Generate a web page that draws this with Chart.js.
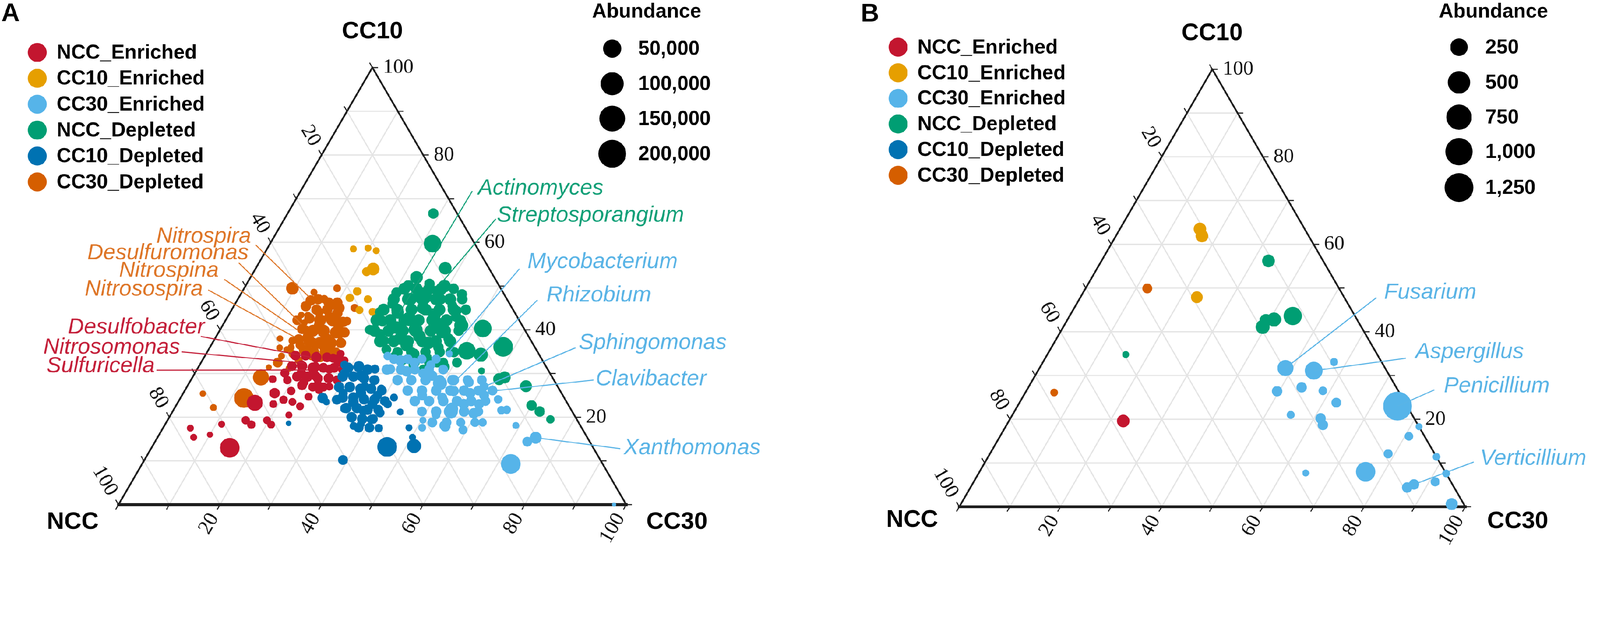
<!DOCTYPE html>
<html>
<head>
<meta charset="utf-8">
<script src="https://cdn.jsdelivr.net/npm/chart.js@4.4.0/dist/chart.umd.min.js"></script>
<style>
  html, body { margin: 0; padding: 0; background: #fff; overflow: hidden; }
  #wrap { display: flex; width: 4550px; height: 1604px; transform-origin: 0 0; }
  canvas { display: block; }
</style>
</head>
<body>
<div id="wrap">
  <canvas id="chart-a" width="2275" height="1604"></canvas>
  <canvas id="chart-b" width="2275" height="1604"></canvas>
</div>
<script>
// the window may be narrower in css px than the 4550 px picture: scale the page to fit
const fit = Math.min(window.innerWidth / 4550, window.innerHeight / 1604);
document.getElementById("wrap").style.transform = "scale(" + fit + ")";

// groups and palette
const groups = ["NCC_Enriched", "CC10_Enriched", "CC30_Enriched", "NCC_Depleted", "CC10_Depleted", "CC30_Depleted"];
const groupColors = ["#C3162F", "#E69F00", "#56B4E9", "#009E73", "#0072B2", "#D55E00"];
const textColors  = ["#C4203A", "#E69F00", "#5AB4E6", "#12A078", "#0072B2", "#DE7628"];
const drawOrder = [4, 5, 1, 3, 2, 6];   // lower = drawn on top
const axisTicks = [20, 40, 60, 80, 100];
const sizeTicksA = [50000, 100000, 150000, 200000];
const sizeTicksB = [250, 500, 750, 1000, 1250];

// ---- panel A, points are [NCC, CC10, CC30, abundance]
const nccEnrichedA = [
  [61.5,23.3,15.2,36700],[71.6,13.0,15.4,61500],[77.5,15.4,7.1,9700],[70.5,18.4,11.1,9700],
  [65.3,19.3,15.4,11900],[64.7,18.3,17.0,11900],[61.1,19.3,19.6,11000],[60.8,18.3,20.9,11000],
  [56.2,20.5,23.3,9700],[55.3,28.7,16.0,11000],[50.2,24.7,25.1,11000],[47.4,26.2,26.4,11000],
  [44.0,34.0,22.0,11900],[41.0,33.5,25.5,13000],[39.0,33.0,28.0,11000],[48.0,32.0,20.0,13000],
  [45.5,31.5,23.0,14600],[43.0,31.0,26.0,13000],[40.5,30.5,29.0,11000],[49.0,30.0,21.0,14600],
  [46.5,29.5,24.0,14600],[44.0,29.0,27.0,13000],[52.5,28.5,19.0,11900],[49.5,28.0,22.5,13000],
  [47.0,27.5,25.5,11900],[45.0,27.0,28.0,11000],[39.0,34.5,26.5,11000],[40.5,32.5,27.0,11900],
  [55.5,24.0,20.5,11900],[54.0,23.5,22.5,11000],[53.0,22.5,24.5,11000],[58.0,23.0,19.0,11000],
  [56.5,25.5,18.0,16000],[53.0,26.0,21.0,11900],[77.1,17.5,5.4,9700],[74.0,16.0,10.0,8500],
  [48.1,34.1,17.8,14600],[46.1,34.1,19.8,14600],[44.2,33.7,22.1,16000],[42.1,33.7,24.2,14600],
  [40.2,33.3,26.5,13000],[50.0,31.7,18.3,14600],[48.0,31.7,20.3,16000],[46.1,31.3,22.6,16000],
  [44.0,31.3,24.7,14600],[41.9,31.3,26.8,14600],[40.4,30.9,28.7,13000],[50.2,29.3,20.5,14600],
  [48.1,29.3,22.6,16000],[46.3,28.9,24.8,14600],[44.2,28.9,26.9,14600],[42.7,28.5,28.8,13000],
  [50.2,27.3,22.5,14600],[48.3,26.9,24.8,13000],[46.2,26.9,26.9,13000],[52.2,30.1,17.7,13000]
];
const cc10EnrichedA = [
  [24.5,58.5,17.0,9700],[21.5,58.7,19.8,9700],[20.2,58.1,21.7,9700],[22.9,53.9,23.2,22000],
  [24.5,53.3,22.2,13000],[28.6,48.8,22.6,11900],[30.8,47.3,21.9,11900],[27.4,47.0,25.6,11000],
  [30.3,44.5,25.2,11000],[27.9,44.1,28.0,11000],[28.0,42.4,29.6,11000]
];
const cc30EnrichedA = [
  [30.0,34.0,36.0,11900],[28.0,33.0,39.0,16000],[25.5,32.5,42.0,14600],[22.5,32.0,45.5,13000],
  [31.0,31.0,38.0,14600],[28.0,30.5,41.5,16000],[25.0,30.0,45.0,14600],[17.6,34.5,47.9,9700],
  [22.8,27.8,49.4,27100],[23.5,29.5,47.0,16000],[20.0,28.5,51.5,16000],[17.0,28.0,55.0,14600],
  [14.5,27.0,58.5,13000],[21.0,26.0,53.0,16000],[18.0,25.5,56.5,16000],[15.5,25.0,59.5,14600],
  [27.7,25.0,47.3,14600],[24.0,24.5,51.5,14600],[13.2,24.1,62.7,11900],[20.5,23.0,56.5,16000],
  [17.5,23.0,59.5,14600],[23.9,21.3,54.8,27100],[19.6,20.9,59.5,16000],[13.8,21.6,64.6,11900],
  [12.7,21.7,65.6,11900],[26.8,18.1,55.1,14600],[23.6,17.1,59.3,13000],[18.9,18.8,62.3,11900],
  [12.7,18.1,69.2,9700],[31.4,17.6,51.0,11000],[30.4,19.3,50.3,9700],[27.2,20.5,52.3,11900],
  [26.7,17.9,55.4,16000],[23.4,21.9,54.7,22000],[10.2,15.3,74.5,19900],[12.3,14.4,73.3,14600],
  [18.1,9.3,72.6,61500],[2.4,0.0,97.6,6400],
  [29.1,33.3,37.6,14600],[26.4,33.3,40.3,14600],[23.6,33.3,43.1,13000],[20.8,33.3,45.9,13000],
  [31.7,30.9,37.4,16000],[28.9,30.9,40.2,16000],[26.2,30.9,42.9,14600],[23.4,30.9,45.7,14600],
  [20.6,30.9,48.5,14600],[30.8,28.5,40.7,16000],[28.1,28.5,43.4,16000],[25.3,28.5,46.2,16000],
  [22.5,28.5,49.0,16000],[19.7,28.5,51.8,16000],[17.0,28.5,54.5,14600],[14.2,28.5,57.3,14600],
  [30.0,26.1,43.9,16000],[27.2,26.1,46.7,16000],[24.4,26.1,49.5,16000],[21.6,26.1,52.3,16000],
  [18.9,26.1,55.0,16000],[16.1,26.1,57.8,14600],[13.3,26.1,60.6,14600],[29.8,23.7,46.5,16000],
  [27.0,23.7,49.3,16000],[24.2,23.7,52.1,16000],[21.5,23.7,54.8,16000],[18.7,23.7,57.6,16000],
  [15.9,23.7,60.4,14600],[29.6,21.3,49.1,14600],[26.8,21.3,51.9,16000],[24.0,21.3,54.7,16000],
  [21.3,21.3,57.4,16000],[18.5,21.3,60.2,14600],[28.8,18.8,52.4,14600],[26.0,18.8,55.2,14600],
  [23.2,18.8,58.0,13000],[20.4,18.8,60.8,13000]
];
const nccDepletedA = [
  [4.7,66.6,28.7,16000],[8.3,59.7,32.0,45200],[8.6,54.1,37.3,22000],[17.8,50.2,32.0,16000],
  [15.3,52.0,32.7,22000],[16.2,47.7,36.1,45200],[10.8,50.0,39.2,22000],[8.3,48.1,43.6,16000],
  [11.0,44.4,44.6,11900],[8.1,40.3,51.6,45200],[6.2,36.1,57.7,61500],[13.8,35.2,51.0,45200],
  [11.5,34.3,54.2,27100],[13.2,30.6,56.2,9700],[10.7,28.7,60.6,19900],[9.4,29.1,61.5,19900],
  [6.2,27.1,66.7,19900],[7.3,22.7,70.0,16000],[6.4,21.3,72.3,16000],[5.2,19.5,75.3,11900],
  [13.5,50.5,36.0,16000],[13.0,49.0,38.0,13000],[21.0,48.5,30.5,16000],[19.0,47.0,34.0,22000],
  [13.0,47.0,40.0,16000],[23.0,46.0,31.0,16000],[11.5,45.5,43.0,14600],[17.5,45.0,37.5,22000],
  [26.5,44.0,29.5,16000],[23.0,44.0,33.0,22000],[16.0,43.5,40.5,22000],[12.0,43.0,45.0,16000],
  [21.5,42.5,36.0,27100],[27.0,42.0,31.0,16000],[16.5,41.5,42.0,22000],[12.0,41.0,47.0,27100],
  [25.0,40.5,34.5,22000],[21.5,40.0,38.5,27100],[30.5,40.0,29.5,14600],[16.5,39.5,44.0,22000],
  [29.0,39.0,32.0,16000],[21.5,38.5,40.0,22000],[25.5,38.0,36.5,22000],[16.0,38.0,46.0,16000],
  [29.0,37.5,33.5,16000],[20.5,37.0,42.5,22000],[25.0,36.5,38.5,22000],[19.0,36.0,45.0,16000],
  [29.5,35.5,35.0,14600],[17.0,35.0,48.0,16000],[24.5,34.5,41.0,16000],[28.5,34.0,37.5,14600],
  [22.5,33.5,44.0,16000],[27.5,33.0,39.5,13000],[21.0,32.5,46.5,14600],[26.0,32.0,42.0,13000],
  [20.0,31.5,48.5,14600],[24.5,31.0,44.5,13000],
  [19.0,49.4,31.6,19900],[16.6,49.4,34.0,19900],[14.1,49.4,36.5,19900],[11.7,49.4,38.9,19900],
  [9.3,49.4,41.3,16000],[22.3,47.0,30.7,19900],[19.5,47.0,33.5,19900],[16.7,47.0,36.3,19900],
  [14.0,47.0,39.0,19900],[11.2,47.0,41.8,19900],[8.8,47.0,44.2,16000],[25.5,44.6,29.9,19900],
  [22.8,44.6,32.6,19900],[20.0,44.6,35.4,19900],[17.2,44.6,38.2,19900],[14.5,44.6,40.9,19900],
  [11.7,44.6,43.7,19900],[9.3,44.6,46.1,16000],[28.1,42.2,29.7,19900],[25.4,42.2,32.4,19900],
  [22.6,42.2,35.2,19900],[19.8,42.2,38.0,19900],[17.1,42.2,40.7,19900],[14.3,42.2,43.5,19900],
  [11.5,42.2,46.3,16000],[29.7,39.8,30.5,19900],[26.9,39.8,33.3,19900],[24.1,39.8,36.1,19900],
  [21.4,39.8,38.8,19900],[18.6,39.8,41.6,19900],[15.8,39.8,44.4,19900],[13.1,39.8,47.1,16000],
  [29.8,37.4,32.8,19900],[27.1,37.4,35.5,19900],[24.3,37.4,38.3,19900],[21.5,37.4,41.1,19900],
  [18.8,37.4,43.8,19900],[16.0,37.4,46.6,19900],[27.6,34.9,37.5,16000],[24.9,34.9,40.2,16000],
  [22.1,34.9,43.0,16000],[19.3,34.9,45.8,16000],[16.5,34.9,48.6,16000],[25.4,32.5,42.1,14600],
  [22.6,32.5,44.9,14600],[19.8,32.5,47.7,14600],[17.1,32.5,50.4,14600]
];
const cc10DepletedA = [
  [39.5,32.0,28.5,11900],[37.0,31.5,31.5,16000],[34.0,31.0,35.0,13000],[40.5,30.0,29.5,14600],
  [37.5,29.5,33.0,16000],[35.5,28.5,36.0,13000],[41.0,27.0,32.0,14600],[38.0,27.0,35.0,13000],
  [35.0,26.5,38.5,11900],[43.0,25.5,31.5,13000],[39.5,25.5,35.0,16000],[36.5,25.0,38.5,13000],
  [33.5,24.5,42.0,11000],[45.0,24.0,31.0,14600],[42.0,23.5,34.5,16000],[38.5,23.0,38.5,14600],
  [35.5,23.0,41.5,11900],[44.5,22.0,33.5,13000],[41.0,21.5,37.5,14600],[38.0,21.0,41.0,13000],
  [44.0,20.0,36.0,11900],[40.5,19.5,40.0,13000],[43.0,18.5,38.5,11000],[44.7,18.0,37.3,11000],
  [40.0,17.5,42.5,11900],[47.6,24.4,28.0,16000],[47.3,23.5,29.2,9700],[33.9,21.2,44.9,9700],
  [34.0,17.6,48.4,9700],[34.4,15.4,50.2,9700],[40.5,13.2,46.3,61500],[35.1,13.4,51.5,27100],
  [50.7,10.2,39.1,14600],[57.2,18.6,24.2,7900],
  [39.1,31.3,29.6,16000],[36.8,31.7,31.5,16000],[35.5,30.9,33.6,16000],[41.2,29.3,29.5,16000],
  [39.1,29.3,31.6,16000],[37.2,28.9,33.9,16000],[35.3,28.5,36.2,14600],[43.1,26.9,30.0,16000],
  [41.0,26.9,32.1,16000],[39.1,26.5,34.4,16000],[37.0,26.5,36.5,16000],[35.1,26.1,38.8,14600],
  [43.6,24.5,31.9,16000],[41.5,24.5,34.0,16000],[39.6,24.1,36.3,16000],[37.5,24.1,38.4,16000],
  [35.7,23.7,40.6,14600],[44.1,22.1,33.8,16000],[42.0,22.1,35.9,16000],[40.1,21.7,38.2,16000],
  [38.0,21.7,40.3,14600],[44.1,20.0,35.9,16000],[42.2,19.6,38.2,16000],[40.1,19.6,40.3,14600],
  [43.9,17.6,38.5,14600],[41.8,17.6,40.6,14600]
];
const cc30DepletedA = [
  [41.0,49.5,9.5,22000],[32.2,49.5,18.3,10700],[38.8,46.7,14.5,16000],[35.2,45.6,19.2,13000],
  [42.3,43.4,14.3,9000],[41.0,43.4,15.6,9000],[42.6,41.6,15.8,9500],[49.2,38.0,12.8,9000],
  [50.3,35.9,13.8,9000],[50.9,34.0,15.1,9500],[49.1,35.5,15.4,9000],[54.7,31.4,13.9,8500],
  [57.4,29.1,13.5,36700],[63.1,24.4,12.5,61500],[70.7,25.4,3.9,8800],[70.2,22.2,7.6,9700],
  [36.0,47.0,17.0,11900],[34.0,45.0,21.0,16000],[38.5,44.0,17.5,13000],[37.0,43.0,20.0,14600],
  [36.0,42.0,22.0,13000],[40.0,41.0,19.0,16000],[36.5,40.5,23.0,14600],[43.0,40.0,17.0,12000],
  [40.0,39.5,20.5,16000],[37.0,39.0,24.0,13000],[43.5,38.5,18.0,14600],[40.0,38.0,22.0,16000],
  [47.0,37.5,15.5,11000],[43.0,37.0,20.0,14600],[38.0,37.0,25.0,11000],[46.0,36.5,17.5,13000],
  [41.5,36.0,22.5,14600],[45.0,35.5,19.5,13000],[41.0,35.0,24.0,11000],[48.5,34.5,17.0,11000],
  [45.0,34.0,21.0,11900],[43.5,33.5,23.0,11000],[48.0,33.0,19.0,11000],[34.0,42.0,24.0,12000],
  [31.0,45.0,24.0,11000],[50.8,31.2,18.0,9700],[46.5,37.7,15.8,9700],[48.0,36.0,16.0,9700],
  [40.4,45.4,14.2,16000],[38.7,44.6,16.7,16000],[36.6,44.6,18.8,16000],[35.0,43.8,21.2,16000],
  [41.1,42.6,16.3,16000],[39.2,42.2,18.6,19900],[36.8,42.2,21.0,19900],[34.9,41.8,23.3,16000],
  [43.7,40.2,16.1,16000],[41.8,39.8,18.4,19900],[39.7,39.8,20.5,19900],[37.5,39.4,23.1,19900],
  [35.8,39.4,24.8,16000],[45.6,37.8,16.6,16000],[43.7,37.4,18.9,19900],[41.8,37.0,21.2,19900],
  [39.7,37.0,23.3,19900],[37.7,37.0,25.3,16000],[45.8,35.3,18.9,16000],[44.0,34.9,21.1,16000],
  [41.9,34.9,23.2,16000],[39.8,34.9,25.3,14600],[37.2,47.0,15.8,16000],[35.5,46.2,18.3,16000],
  [33.8,46.2,20.0,16000],[43.7,42.2,14.1,14600],[52.4,32.5,15.1,14600],[37.2,48.6,14.2,9700]
];

// labelled taxa, panel A: name, group index, [NCC, CC10, CC30] of the marked point
const taxaA = ["Nitrospira", "Desulfuromonas", "Nitrospina", "Nitrosospira", "Desulfobacter", "Nitrosomonas", "Sulfuricella",
  "Actinomyces", "Streptosporangium", "Mycobacterium", "Rhizobium", "Sphingomonas", "Clavibacter", "Xanthomonas"];
const taxaGroupA = [5, 5, 5, 5, 0, 0, 0, 3, 3, 2, 2, 2, 2, 2];
const taxaPointA = [
  [38.7,47.5,13.8],[43.3,41.3,15.4],[44.7,39.9,15.4],[46.2,38.4,15.4],[45.0,33.7,21.3],[47.1,32.4,20.5],[47.2,30.8,22.0],
  [22.8,43.8,33.4],[10.8,50.9,38.3],[18.0,34.5,47.5],[20.2,27.8,52.0],[13.7,27.3,59.0],[14.1,25.9,60.0],[10.1,15.3,74.6]
];

// ---- panel B
const nccEnrichedB = [[57.8,19.6,22.6,124]];
const cc10EnrichedB = [[20.7,63.5,15.8,124],[21.1,61.9,17.0,124],[29.1,47.9,23.0,110]];
const cc30EnrichedB = [
  [19.7,31.7,48.6,205],[14.4,31.1,54.5,260],[9.4,33.1,57.5,64],[24.0,26.4,49.6,90],
  [18.7,27.3,54.0,90],[14.9,26.5,58.6,70],[13.6,23.8,62.6,83],[24.0,21.0,55.0,64],
  [18.5,20.2,61.3,90],[18.8,18.7,62.5,90],[1.9,23.0,75.1,1250],[0.0,18.3,81.7,55],
  [3.1,16.1,80.8,70],[9.2,12.1,78.7,75],[0.0,11.4,88.6,61],[15.7,8.0,76.3,330],
  [27.7,7.7,64.6,55],[0.0,7.6,92.4,61],[3.1,5.7,91.2,75],[7.6,5.1,87.3,90],
  [9.3,4.4,86.3,90],[2.4,0.6,97.0,112]
];
const nccDepletedB = [[10.8,56.2,33.0,124],[19.5,41.1,39.4,151],[18.1,42.6,39.3,124],[16.4,42.8,40.8,151],[12.3,43.6,44.1,276],[49.7,34.8,15.5,55]];
const cc10DepletedB = [];
const cc30DepletedB = [[37.9,49.9,12.2,83],[68.2,26.1,5.7,61]];

const taxaB = ["Fusarium", "Aspergillus", "Penicillium", "Verticillium"];
const taxaGroupB = [2, 2, 2, 2];
const taxaPointB = [[19.7,31.7,48.6],[14.4,31.1,54.5],[1.9,23.0,75.1],[7.6,5.1,87.3]];

// ---- layout (canvas pixels)
const layoutA = {
  pad: { left: 337, right: 494, top: 192, bottom: 170 },
  letter: { text: "A", x: 4, y: 40 },
  legend: { x: 106, y0: 149, dy: 73.6, r: 27, tx: 161 },
  sizes: { ticks: sizeTicksA, tx: 1839, ty: 34, cx: 1741, ys: [138, 238, 337, 437], lx: 1815 },
  vertex: { top: [1059, 90], left: [207, 1484], right: [1925, 1484] },
  taxa: taxaA, taxaGroup: taxaGroupA, taxaPoint: taxaPointA,
  notes: [
    { x: 714, y: 672, align: "right", from: [727, 696] },
    { x: 707, y: 719, align: "right", from: [679, 747] },
    { x: 622, y: 769, align: "right", from: [638, 794] },
    { x: 577, y: 822, align: "right", from: [592, 824] },
    { x: 582, y: 930, align: "right", from: [571, 956] },
    { x: 512, y: 987, align: "right", from: [517, 1000] },
    { x: 440, y: 1040, align: "right", from: [446, 1052] },
    { x: 1359, y: 535, align: "left", from: [1343, 543] },
    { x: 1413, y: 612, align: "left", from: [1410, 622] },
    { x: 1500, y: 744, align: "left", from: [1477, 764] },
    { x: 1554, y: 839, align: "left", from: [1528, 853] },
    { x: 1646, y: 974, align: "left", from: [1637, 988] },
    { x: 1694, y: 1077, align: "left", from: [1688, 1080] },
    { x: 1774, y: 1273, align: "left", from: [1764, 1275] }
  ]
};
const layoutB = {
  pad: { left: 453, right: 383, top: 197, bottom: 164 },
  letter: { text: "B", x: 173, y: 41 },
  legend: { x: 279, y0: 134, dy: 72.8, r: 27, tx: 334 },
  sizes: { ticks: sizeTicksB, tx: 1972, ty: 34, cx: 1874, ys: [134, 234, 333, 431, 533], lx: 1949 },
  vertex: { top: [1172, 95], left: [319, 1478], right: [2041, 1482] },
  taxa: taxaB, taxaGroup: taxaGroupB, taxaPoint: taxaPointB,
  notes: [
    { x: 1661, y: 831, align: "left", from: [1639, 846] },
    { x: 1750, y: 1000, align: "left", from: [1723, 1018] },
    { x: 1831, y: 1097, align: "left", from: [1804, 1108] },
    { x: 1934, y: 1303, align: "left", from: [1916, 1313] }
  ]
};

const H = Math.sqrt(3) / 2;
const toXY = p => ({ x: (p[2] + p[1] / 2) / 100, y: p[1] / 100 * H });
const radiusA = v => Math.max(5, -79.4 + 9.74 * Math.log(v));
const radiusB = v => Math.max(6, -29.9 + 9.94 * Math.log(v));

const SANS = '"Liberation Sans", Arial, sans-serif';
const SERIF = '"Liberation Serif", "Times New Roman", serif';

function ternaryPlugin(L, rfn) {
  return {
    id: "ternary",
    beforeDatasetsDraw(chart) {
      const ctx = chart.ctx, xs = chart.scales.x, ys = chart.scales.y;
      const P = (cc10, cc30) => [xs.getPixelForValue((cc30 + cc10 / 2) / 100), ys.getPixelForValue(cc10 / 100 * H)];
      const seg = (a, b) => { ctx.beginPath(); ctx.moveTo(a[0], a[1]); ctx.lineTo(b[0], b[1]); ctx.stroke(); };
      ctx.save();
      // grid
      ctx.strokeStyle = "#e4e4e4"; ctx.lineWidth = 3.5;
      for (let v = 10; v < 100; v += 10) {
        seg(P(v, 0), P(v, 100 - v));
        seg(P(0, v), P(100 - v, v));
        seg(P(0, 100 - v), P(100 - v, 0));
      }
      // edges
      ctx.strokeStyle = "#1e1e1e"; ctx.lineCap = "square";
      ctx.lineWidth = 5;
      seg(P(0, 0), P(100, 0));
      seg(P(100, 0), P(0, 100));
      ctx.lineWidth = 8;
      seg(P(0, 0), P(0, 100));
      // ticks and tick labels
      ctx.lineWidth = 3; ctx.lineCap = "butt";
      ctx.fillStyle = "#111"; ctx.font = "58px " + SERIF; ctx.textBaseline = "middle";
      const c60 = 0.5, s60 = H;
      for (let v = 0; v <= 100; v += 10) {
        let p = P(v, 100 - v);
        seg(p, [p[0] + 16, p[1]]);
        if (axisTicks.includes(v)) { ctx.textAlign = "left"; ctx.fillText(String(v), p[0] + 30, p[1]); }
        p = P(100 - v, 0);
        seg(p, [p[0] - 16 * c60, p[1] - 16 * s60]);
        if (axisTicks.includes(v)) {
          ctx.save(); ctx.translate(p[0] - 34 * c60, p[1] - 34 * s60); ctx.rotate(Math.PI / 3);
          ctx.textAlign = "right"; ctx.fillText(String(v), 0, 0); ctx.restore();
        }
        p = P(0, v);
        seg(p, [p[0] - 16 * c60, p[1] + 16 * s60]);
        if (axisTicks.includes(v)) {
          ctx.save(); ctx.translate(p[0] - 34 * c60, p[1] + 34 * s60); ctx.rotate(-Math.PI / 3);
          ctx.textAlign = "right"; ctx.fillText(String(v), 0, 0); ctx.restore();
        }
      }
      // vertex names
      ctx.font = "bold 68px " + SANS; ctx.textAlign = "center"; ctx.fillStyle = "#000";
      ctx.fillText("CC10", L.vertex.top[0], L.vertex.top[1]);
      ctx.fillText("NCC", L.vertex.left[0], L.vertex.left[1]);
      ctx.fillText("CC30", L.vertex.right[0], L.vertex.right[1]);
      ctx.restore();
    },
    afterDatasetsDraw(chart) {
      const ctx = chart.ctx, xs = chart.scales.x, ys = chart.scales.y;
      ctx.save();
      ctx.font = "italic 63px " + SANS; ctx.textBaseline = "middle"; ctx.lineWidth = 3;
      L.notes.forEach((n, i) => {
        const col = textColors[L.taxaGroup[i]];
        const xy = toXY(L.taxaPoint[i]);
        ctx.strokeStyle = col;
        ctx.beginPath(); ctx.moveTo(n.from[0], n.from[1]);
        ctx.lineTo(xs.getPixelForValue(xy.x), ys.getPixelForValue(xy.y)); ctx.stroke();
        ctx.fillStyle = col; ctx.textAlign = n.align;
        ctx.fillText(L.taxa[i], n.x, n.y);
      });
      ctx.font = "bold 57px " + SANS; ctx.textAlign = "left";
      groups.forEach((g, i) => {
        const y = L.legend.y0 + i * L.legend.dy;
        ctx.fillStyle = groupColors[i];
        ctx.beginPath(); ctx.arc(L.legend.x, y, L.legend.r, 0, Math.PI * 2); ctx.fill();
        ctx.fillStyle = "#000"; ctx.fillText(g, L.legend.tx, y + 2);
      });
      ctx.textAlign = "center"; ctx.fillText("Abundance", L.sizes.tx, L.sizes.ty);
      ctx.textAlign = "left";
      L.sizes.ticks.forEach((v, i) => {
        const y = L.sizes.ys[i];
        ctx.beginPath(); ctx.arc(L.sizes.cx, y, rfn(v), 0, Math.PI * 2); ctx.fill();
        ctx.fillText(v.toLocaleString("en-US"), L.sizes.lx, y + 2);
      });
      ctx.font = "bold 72px " + SANS; ctx.fillText(L.letter.text, L.letter.x, L.letter.y);
      ctx.restore();
    }
  };
}

function makeChart(id, series, L, rfn) {
  const datasets = series.map((pts, i) => ({
    label: groups[i],
    data: pts.map(p => ({ ...toXY(p), r: rfn(p[3]) })),
    backgroundColor: groupColors[i],
    borderWidth: 0,
    hoverRadius: 0,
    clip: false,
    order: drawOrder[i]
  }));
  return new Chart(document.getElementById(id), {
    type: "bubble",
    data: { datasets },
    options: {
      responsive: false,
      devicePixelRatio: 1,
      animation: false,
      events: [],
      layout: { padding: L.pad },
      scales: {
        x: { type: "linear", min: 0, max: 1, display: false },
        y: { type: "linear", min: 0, max: H, display: false }
      },
      plugins: { legend: { display: false }, tooltip: { enabled: false } }
    },
    plugins: [ternaryPlugin(L, rfn)]
  });
}

makeChart("chart-a", [nccEnrichedA, cc10EnrichedA, cc30EnrichedA, nccDepletedA, cc10DepletedA, cc30DepletedA], layoutA, radiusA);
makeChart("chart-b", [nccEnrichedB, cc10EnrichedB, cc30EnrichedB, nccDepletedB, cc10DepletedB, cc30DepletedB], layoutB, radiusB);
</script>
</body>
</html>
